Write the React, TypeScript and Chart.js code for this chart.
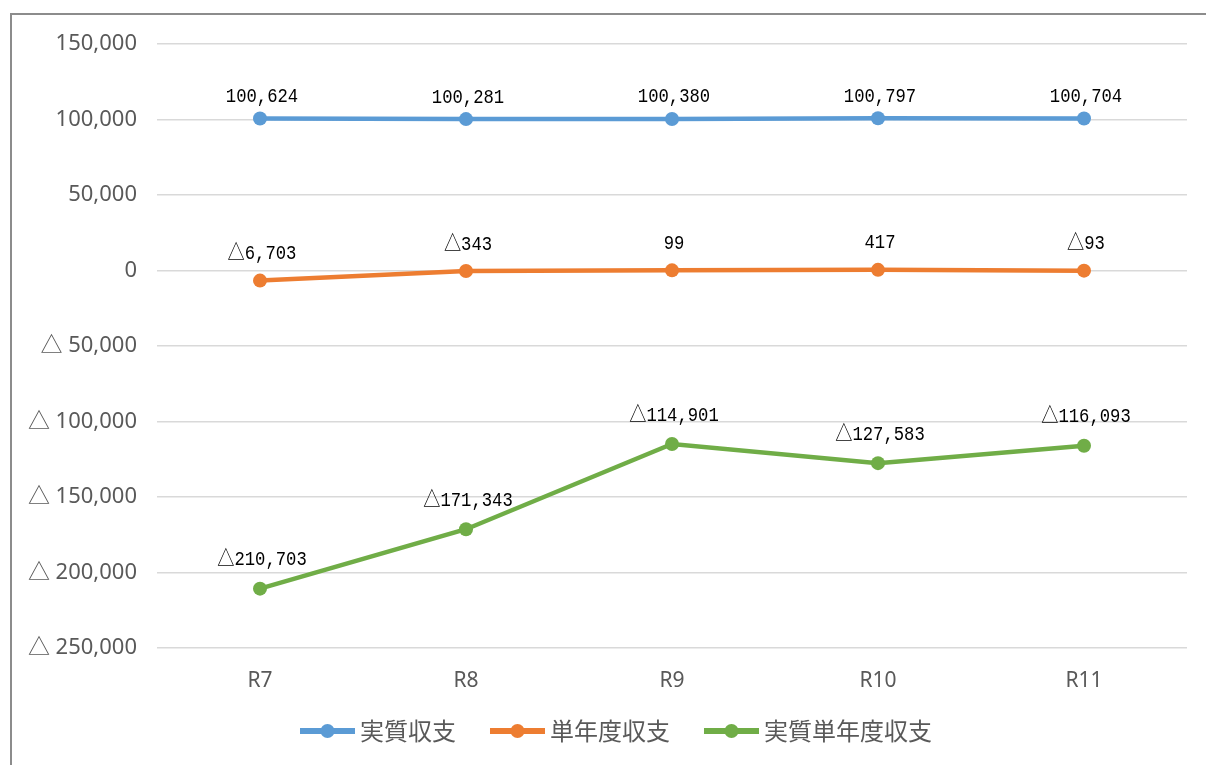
import React, { useEffect, useRef } from "react";
import { Chart, registerables } from "chart.js";

Chart.register(...registerables);

const categories = ["R7", "R8", "R9", "R10", "R11"];
const jisshitsuShushi = [100624, 100281, 100380, 100797, 100704];
const tannendoShushi = [-6703, -343, 99, 417, -93];
const jisshitsuTannendoShushi = [-210703, -171343, -114901, -127583, -116093];
const seriesNames = ["実質収支", "単年度収支", "実質単年度収支"];
const seriesColors = ["#5B9BD5", "#ED7D31", "#70AD47"];
const labelLift = [22, 27, 29];
const yMin = -250000;
const yMax = 150000;
const yStep = 50000;

const fmtLabel = (v: number) => (v < 0 ? "△" : "") + Math.abs(v).toLocaleString("en-US");
const fmtTick = (v: number) => (v < 0 ? "△ " : "") + Math.abs(v).toLocaleString("en-US");

const dataLabelPlugin = {
  id: "dataLabels",
  afterDatasetsDraw(chart: any) {
    const ctx = chart.ctx as CanvasRenderingContext2D;
    ctx.save();
    ctx.fillStyle = "#000000";
    ctx.textAlign = "center";
    ctx.textBaseline = "middle";
    ctx.font = "21px 'Liberation Mono', 'Noto Sans CJK JP'";
    chart.data.datasets.forEach((ds: any, di: number) => {
      const meta = chart.getDatasetMeta(di);
      meta.data.forEach((el: any, i: number) => {
        const text = fmtLabel(ds.data[i]);
        ctx.save();
        ctx.translate(el.x + 2, el.y - labelLift[di]);
        ctx.scale(0.82, 1);
        ctx.fillText(text, 0, 0);
        ctx.restore();
      });
    });
    ctx.restore();
  },
};

const legendPlugin = {
  id: "customLegend",
  afterDraw(chart: any) {
    const ctx = chart.ctx as CanvasRenderingContext2D;
    ctx.save();
    ctx.font = "24px 'Noto Sans CJK JP'";
    ctx.textBaseline = "middle";
    ctx.textAlign = "left";
    let x = 300;
    const y = 731;
    chart.data.datasets.forEach((ds: any) => {
      const color = ds.borderColor;
      ctx.strokeStyle = color;
      ctx.lineWidth = 6;
      ctx.beginPath();
      ctx.moveTo(x, y);
      ctx.lineTo(x + 55, y);
      ctx.stroke();
      ctx.fillStyle = color;
      ctx.beginPath();
      ctx.arc(x + 27.5, y, 7, 0, Math.PI * 2);
      ctx.fill();
      ctx.fillStyle = "#595959";
      ctx.fillText(ds.label, x + 60, y);
      x += 60 + ctx.measureText(ds.label).width + 34;
    });
    ctx.restore();
  },
};

export default function App() {
  const ref = useRef<HTMLCanvasElement | null>(null);
  useEffect(() => {
    if (!ref.current) return;
    const series = [jisshitsuShushi, tannendoShushi, jisshitsuTannendoShushi];
    const chart = new Chart(ref.current, {
      type: "line",
      data: {
        labels: categories,
        datasets: series.map((d, i) => ({
          label: seriesNames[i],
          data: d,
          borderColor: seriesColors[i],
          backgroundColor: seriesColors[i],
          borderWidth: 4.5,
          pointRadius: 7,
          pointHoverRadius: 7,
          pointBorderWidth: 0,
          tension: 0,
          fill: false,
        })),
      },
      options: {
        animation: false,
        responsive: false,
        devicePixelRatio: 1,
        layout: { padding: { left: 0, top: 44, right: 19, bottom: 0 } },
        plugins: {
          legend: { display: false },
          tooltip: { enabled: false },
        },
        scales: {
          x: {
            offset: true,
            grid: { display: false, drawTicks: false },
            border: { display: false },
            ticks: {
              padding: 20,
              color: "#595959",
              font: { family: "'Noto Sans'", size: 21 },
            },
            afterFit: (s: any) => {
              s.height = 117;
            },
          },
          y: {
            min: yMin,
            max: yMax,
            grid: { color: "#d9d9d9", lineWidth: 1.5, drawTicks: false },
            border: { display: false },
            ticks: {
              stepSize: yStep,
              padding: 20,
              color: "#595959",
              font: { family: "'Noto Sans', 'Noto Sans CJK JP'", size: 22 },
              callback: (v: any) => fmtTick(Number(v)),
            },
            afterFit: (s: any) => {
              s.width = 157;
            },
          },
        },
      },
      plugins: [dataLabelPlugin, legendPlugin],
    });
    return () => chart.destroy();
  }, []);

  return (
    <div>
      <div
        style={{
          position: "absolute",
          left: 10,
          top: 13,
          width: 1196,
          height: 752,
          boxSizing: "border-box",
          borderTop: "2px solid #8c8c8c",
          borderLeft: "2px solid #8c8c8c",
        }}
      />
      <canvas
        ref={ref}
        width={1206}
        height={765}
        style={{ position: "absolute", left: 0, top: 0, width: 1206, height: 765 }}
      />
    </div>
  );
}
